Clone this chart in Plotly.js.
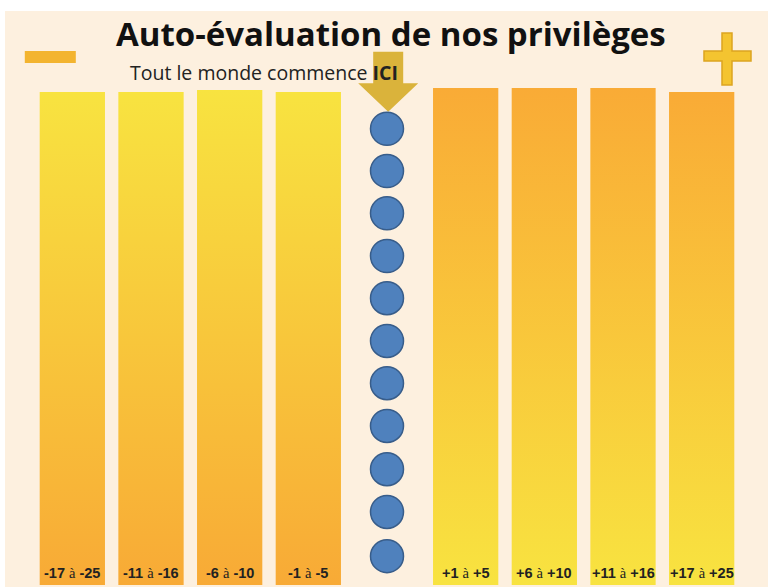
<!DOCTYPE html>
<html><head><meta charset="utf-8">
<script src="https://cdn.plot.ly/plotly-3.0.1.min.js"></script>
<style>html,body{margin:0;padding:0;background:#fff;width:768px;height:587px;overflow:hidden}
#chart{position:absolute;left:5px;top:11px;width:763px;height:576px}</style>
</head><body><div id="chart"></div>
<script>
// ---- data ----
const negativeLabels = ["-17 à -25", "-11 à -16", "-6 à -10", "-1 à -5"];
const positiveLabels = ["+1 à +5", "+6 à +10", "+11 à +16", "+17 à +25"];
const negativeHeights = [99.2, 99.2, 99.6, 99.2];
const positiveHeights = [100, 100, 100, 99.2];
const startSteps = [91.8, 83.3, 74.8, 66.2, 57.7, 49.1, 40.6, 32.0, 23.3, 14.7, 5.8];
const titleText = "Auto-évaluation de nos privilèges";
const subtitleText = "Tout le monde commence";
const startWord = "ICI";

// ---- layout helpers ----
const L = 33.2, R = 741, T = 88, B = 585; // plot area in page pixels
const px = x => (x - L) / (R - L);
const py = y => (B - y) / (B - T);
const barWidth = 0.83;
const middleIndex = negativeLabels.length;

const traces = [];
const annotations = [];

function addBar(idx, h, bottomColor, topColor, label) {
  const x0 = idx - barWidth / 2, x1 = idx + barWidth / 2;
  traces.push({
    type: 'scatter', mode: 'lines', x: [x0, x1, x1, x0, x0], y: [0, 0, h, h, 0],
    fill: 'toself', line: {width: 0, color: 'rgba(0,0,0,0)'},
    fillgradient: {type: 'vertical', colorscale: [[0, bottomColor], [1, topColor]]},
    hoverinfo: 'skip', showlegend: false
  });
  const parts = label.split(' à ');
  annotations.push({
    x: idx, y: 2.4, xref: 'x', yref: 'y', showarrow: false, yanchor: 'middle',
    text: '<b>' + parts[0] + '</b> <span style="font-family:Liberation Serif;font-weight:normal">à</span> <b>' + parts[1] + '</b>',
    font: {family: 'Liberation Sans, Arial', size: 14.5, color: '#222'}
  });
}

negativeLabels.forEach((lab, i) => addBar(i, negativeHeights[i], '#f8aa36', '#f8e340', lab));
positiveLabels.forEach((lab, i) => addBar(middleIndex + 1 + i, positiveHeights[i], '#f8e340', '#f9ab36', lab));

traces.push({
  type: 'scatter', mode: 'markers', x: startSteps.map(() => middleIndex), y: startSteps,
  marker: {size: 33, color: '#4f81bd', line: {color: '#385d8a', width: 1.5}},
  hoverinfo: 'skip', showlegend: false, cliponaxis: false
});

annotations.push({
  x: px(391), y: py(33), xref: 'paper', yref: 'paper', showarrow: false,
  text: '<b>' + titleText + '</b>', font: {family: 'Open Sans', size: 33, color: '#111'},
  xanchor: 'center', yanchor: 'middle'
});
annotations.push({
  x: px(128), y: py(72), xref: 'paper', yref: 'paper', showarrow: false,
  text: subtitleText + ' <b>' + startWord + '</b>', font: {family: 'Open Sans', size: 19.5, color: '#222'},
  xanchor: 'left', yanchor: 'middle'
});

const arrowPts = [[373.3, 51.7], [403.3, 51.7], [403.3, 83.3], [418.3, 83.3], [388.3, 111.7], [358.3, 83.3], [373.3, 83.3]];
const arrowPath = 'M' + arrowPts.map(p => px(p[0]) + ',' + py(p[1])).join('L') + 'Z';
const plusPts = [[722, 33], [732, 33], [732, 51], [751, 51], [751, 61], [732, 61], [732, 85], [722, 85], [722, 61], [704, 61], [704, 51], [722, 51]];
const plusPath = 'M' + plusPts.map(p => px(p[0]) + ',' + py(p[1])).join('L') + 'Z';

const shapes = [
  {type: 'path', xref: 'paper', yref: 'paper', path: arrowPath, fillcolor: '#dab33b', line: {width: 0}, layer: 'below'},
  {type: 'rect', xref: 'paper', yref: 'paper', x0: px(25), x1: px(76), y0: py(63), y1: py(51), fillcolor: '#f3b42f', line: {width: 0}},
  {type: 'path', xref: 'paper', yref: 'paper', path: plusPath, fillcolor: '#f4c430', line: {color: '#dca420', width: 1.5}}
];

const layout = {
  width: 763, height: 576,
  margin: {l: L - 5, r: 768 - R, t: T - 11, b: 587 - B, pad: 0},
  paper_bgcolor: '#fdf0df', plot_bgcolor: 'rgba(0,0,0,0)',
  xaxis: {range: [-0.5, 8.5], visible: false, fixedrange: true},
  yaxis: {range: [0, 100], visible: false, fixedrange: true},
  showlegend: false, annotations: annotations, shapes: shapes
};
Plotly.newPlot('chart', traces, layout, {displayModeBar: false, staticPlot: true});
</script></body></html>
